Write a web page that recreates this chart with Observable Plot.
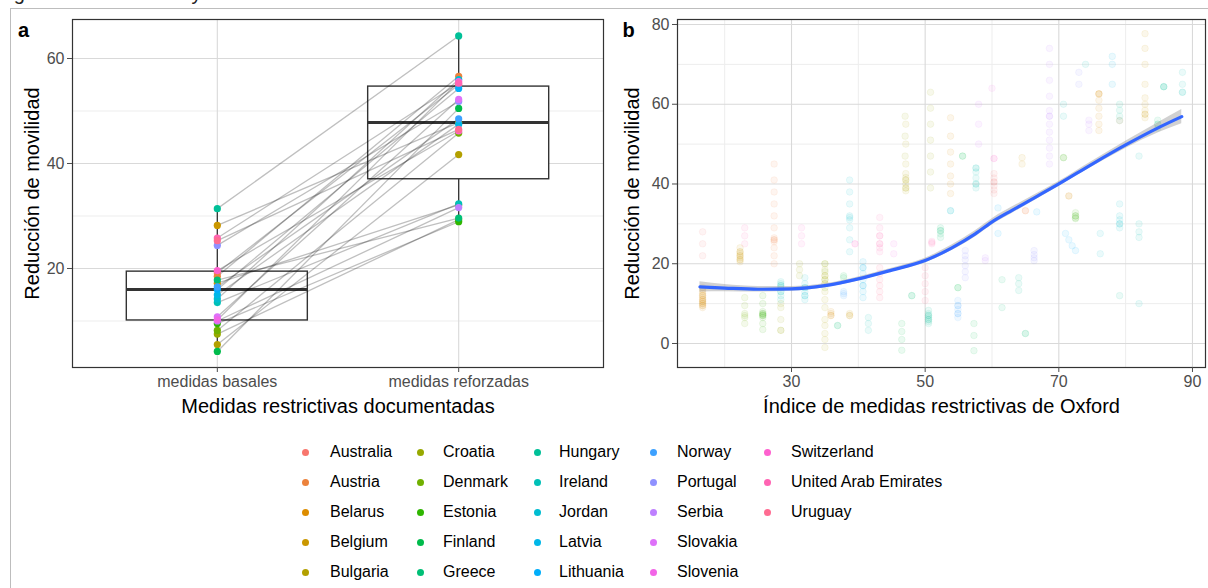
<!DOCTYPE html>
<html>
<head>
<meta charset="utf-8">
<script src="https://cdn.jsdelivr.net/npm/d3@7"></script>
<script src="https://cdn.jsdelivr.net/npm/@observablehq/plot@0.6"></script>
<style>
html,body{margin:0;padding:0;background:#fff;}
body{width:1208px;height:588px;position:relative;overflow:hidden;font-family:"Liberation Sans",Arial,Helvetica,sans-serif;}
#caption{position:absolute;left:-3px;top:-17px;font-size:20px;line-height:20px;color:#222;white-space:nowrap;}
#frameTop{position:absolute;left:10px;top:8px;right:0;height:0;border-top:1px solid #bdbdbd;z-index:3;}
#frameLeft{position:absolute;left:10px;top:8px;bottom:0;width:0;border-left:1px solid #bdbdbd;z-index:3;}
#panelA{position:absolute;left:0;top:0;}
#panelB{position:absolute;left:605px;top:0;}
.lg-text{position:absolute;font-size:16px;color:#000;white-space:nowrap;line-height:20px;}
.lg-dot{position:absolute;width:7px;height:7px;border-radius:50%;}
</style>
</head>
<body>
<div id="caption">Figura 2. Cuarentena y movilidad</div>
<div id="frameTop"></div>
<div id="frameLeft"></div>
<div id="panelA"></div>
<div id="panelB"></div>
<div id="legend"></div>
<script>
// ---------- DATA ----------
const countries = ["Australia","Austria","Belarus","Belgium","Bulgaria","Croatia","Denmark","Estonia","Finland","Greece","Hungary","Ireland","Jordan","Latvia","Lithuania","Norway","Portugal","Serbia","Slovakia","Slovenia","Switzerland","United Arab Emirates","Uruguay"];

const categoryLabels = ["medidas basales", "medidas reforzadas"];

// reduction of mobility, per country (same order as countries)
const basalValues     = [19.2, 18.5, 17.2, 28.2, 5.5, 7.5, 8.2, 9.5, 4.2, 17.8, 31.4, 13.5, 14.2, 15.0, 16.0, 16.5, 24.4, 10.0, 10.8, 10.2, 19.6, 25.8, 25.3];
const reforzadaValues = [55.0, 56.6, 32.1, 47.8, 41.7, 29.3, 45.8, 28.9, 50.5, 29.6, 64.3, 32.3, 56.0, 47.5, 54.3, 48.5, 51.8, 31.6, 52.2, 55.6, 46.2, 55.3, 46.5];

const yTicksA = [20, 40, 60];
const yMinorA = [10, 30, 50];

// panel b: [country, Oxford index, mobility reductions observed at that index (repeats = overlapping days)]
const oxfordClusters = [
  ["Belarus", 16.7, [9, 9.5, 9.5, 10, 10, 10.5, 10.5, 11, 11, 11.5, 12, 12, 12.5, 13, 13.5, 14]],
  ["Australia", 16.7, [22, 25, 28]],
  ["Belgium", 22.3, [20.5, 21, 21, 21.5, 22, 22, 22.5, 23, 23, 24]],
  ["United Arab Emirates", 23, [25, 27, 29]],
  ["Denmark", 23, [5, 6.5, 7, 7.5, 9.5, 11.5]],
  ["Estonia", 25.7, [3.5, 5, 6.5, 7, 7, 7.2, 7.5, 7.5, 8, 10, 12]],
  ["Austria", 27.4, [20, 22, 24, 25.5, 26, 26, 26.5, 29, 32, 35, 38, 41, 45]],
  ["Ireland", 28.4, [11, 12, 13, 13, 14, 14.5, 14.5, 15, 15.5]],
  ["Croatia", 28.4, [3.3, 3.3, 6, 9, 10]],
  ["Croatia", 31.2, [17, 18.5, 20]],
  ["Switzerland", 31.5, [25, 27, 29]],
  ["Jordan", 32, [11, 12, 12, 13, 14, 14, 15, 16.5]],
  ["Bulgaria", 35, [-1, 1, 2.5, 4.5, 6, 9, 11, 13, 15, 15, 16, 17, 17, 18.5, 20]],
  ["Denmark", 35, [14, 16, 18, 20]],
  ["Belarus", 35.9, [7, 7, 7.5, 8]],
  ["Greece", 36.9, [4.5, 4.5]],
  ["Finland", 37.8, [16.5, 17]],
  ["Norway", 37.8, [12, 12.5, 13]],
  ["Belgium", 38.7, [7, 7.5, 7]],
  ["Jordan", 38.7, [23, 26, 29, 31, 31.6, 32, 35, 38, 41]],
  ["Switzerland", 39.5, [25, 25]],
  ["Latvia", 40.7, [11.5, 13, 14.5, 14.5, 16, 17.5, 19, 19, 20.5]],
  ["Ireland", 41.5, [3.3, 5, 6.5]],
  ["Uruguay", 43.2, [11.5, 13, 14.5, 16, 17.5, 19]],
  ["United Arab Emirates", 43.2, [23, 24, 25, 25, 27, 27, 29, 31.6]],
  ["Slovenia", 45.3, [22.5, 25]],
  ["Finland", 46.5, [-1.7, 1, 3, 5]],
  ["Bulgaria", 47.1, [38.3, 39, 39, 40, 41, 41, 41.6, 42.6, 45, 50, 55]],
  ["Croatia", 47, [47, 52, 57]],
  ["Greece", 48, [12, 12]],
  ["Uruguay", 50, [10.8, 13, 15, 17, 19]],
  ["United Arab Emirates", 51, [25, 25.3, 25.6]],
  ["Hungary", 50.5, [5, 5.5, 6, 6, 6.5, 7, 7, 7.5, 8.3]],
  ["Croatia", 50.8, [39, 43, 47, 51, 55, 59, 63]],
  ["Greece", 52.3, [26.6, 27.5, 28.3, 28.3, 29]],
  ["Belarus", 53.8, [37.6, 40, 42, 45, 48, 52, 56.6]],
  ["Jordan", 53.8, [33.3, 33.3]],
  ["Norway", 54.9, [6.5, 7.5, 7.5, 8.5, 9.5, 9.5, 10.8]],
  ["Finland", 54.9, [14, 14]],
  ["Finland", 55.6, [47, 47]],
  ["Portugal", 56, [16.5, 18, 19.5, 21, 22, 23.3]],
  ["Ireland", 57.6, [39, 40, 40, 41.5, 43, 44, 44]],
  ["Finland", 57.3, [-1.8, 2, 5]],
  ["Slovakia", 58, [50, 55, 60]],
  ["Serbia", 59, [20.8, 21.5]],
  ["Australia", 60.3, [37.6, 38.5, 39.5, 40.5, 40.5, 41.5, 42.6]],
  ["Switzerland", 60.3, [46.4, 46.4]],
  ["Slovenia", 60, [64]],
  ["Lithuania", 60.9, [27.6, 34]],
  ["Greece", 61.5, [9, 16]],
  ["Hungary", 64, [13.3, 15, 16.5]],
  ["Belgium", 64.5, [45, 46.6]],
  ["Austria", 65, [33.3, 33.3]],
  ["Greece", 65, [2.5, 2.5]],
  ["Portugal", 66.3, [20.8, 21.5, 22.3, 23.3]],
  ["Lithuania", 66.7, [33]],
  ["Serbia", 68.6, [45, 47, 49, 51, 53, 55, 57, 57, 58.4, 62, 66, 70, 74]],
  ["Estonia", 70.7, [46.6, 46.6]],
  ["Ireland", 70.7, [57, 60]],
  ["Belarus", 71.5, [37, 37]],
  ["Lithuania", 71, [27.6]],
  ["Lithuania", 71.5, [26]],
  ["Lithuania", 72, [24.5]],
  ["Lithuania", 72.5, [23.3]],
  ["Estonia", 72.5, [31.3, 32, 32.8, 32, 31.5]],
  ["Portugal", 73, [65, 68]],
  ["Ireland", 74, [70]],
  ["Serbia", 74.5, [53.4, 55, 56]],
  ["Belarus", 76, [53.4, 55, 57, 59, 61, 62.6, 62.6, 62.6]],
  ["Jordan", 76.2, [22.5, 27.6]],
  ["Latvia", 78, [65, 70, 72]],
  ["Hungary", 79.1, [55.9, 57, 58.5, 60, 12]],
  ["Austria", 79.1, [55.9]],
  ["Jordan", 79.1, [29, 30, 30, 31, 32, 35]],
  ["Ireland", 82, [26.6, 28, 30, 47, 10]],
  ["Belgium", 82.9, [56.6, 57.5, 57.5, 58.5, 60, 61.6, 65, 70, 74, 77.7]],
  ["Greece", 84.8, [54, 55, 55, 56]],
  ["Hungary", 85.7, [64.4, 64.4, 64.4]],
  ["Ireland", 88.5, [63, 63, 65, 68]]
];

// loess smooth: x, fitted y, lower, upper
const smoothX  = [16.3, 20, 25, 30, 35, 40, 45, 50, 54, 57.5, 60.3, 63, 66, 70, 75, 80, 85, 88.4];
const smoothY  = [14.2, 13.9, 13.6, 13.7, 14.5, 16.2, 18.4, 20.8, 24.0, 27.5, 30.8, 33.4, 36.2, 40.0, 45.0, 49.8, 54.2, 56.9];
const smoothLo = [12.9, 13.0, 12.9, 13.1, 14.0, 15.7, 17.9, 20.2, 23.3, 26.7, 30.0, 32.6, 35.5, 39.4, 44.3, 48.9, 52.9, 55.1];
const smoothHi = [15.5, 14.8, 14.3, 14.3, 15.0, 16.7, 18.9, 21.4, 24.7, 28.3, 31.6, 34.2, 36.9, 40.6, 45.7, 50.7, 55.5, 58.7];

const xTicksB = [30, 50, 70, 90];
const xMinorB = [20, 40, 60, 80];
const yTicksB = [0, 20, 40, 60, 80];
const yMinorB = [10, 30, 50, 70];

// ---------- STYLE: ggplot2 default hue palette (HCL, c=100, l=65) ----------
function hueColor(i, n) {
  const h = 15 + 360 * i / n;
  const l = 65, c = 100;
  const hr = h * Math.PI / 180;
  const U = c * Math.cos(hr), V = c * Math.sin(hr);
  const Xn = 95.047, Yn = 100, Zn = 108.883;
  const den = Xn + 15 * Yn + 3 * Zn;
  const un = 4 * Xn / den, vn = 9 * Yn / den;
  const Y = Yn * Math.pow((l + 16) / 116, 3);
  const up = U / (13 * l) + un, vp = V / (13 * l) + vn;
  const X = 9 * Y * up / (4 * vp);
  const Z = Y * (12 - 3 * up - 20 * vp) / (4 * vp);
  const x = X / 100, y = Y / 100, z = Z / 100;
  const lin = [
    3.240479 * x - 1.537150 * y - 0.498535 * z,
    -0.969256 * x + 1.875992 * y + 0.041556 * z,
    0.055648 * x - 0.204043 * y + 1.057311 * z
  ];
  const g = lin.map(v => {
    v = v <= 0.0031308 ? 12.92 * v : 1.055 * Math.pow(v, 1 / 2.4) - 0.055;
    return Math.round(Math.max(0, Math.min(1, v)) * 255);
  });
  return d3.rgb(g[0], g[1], g[2]).formatHex();
}
const palette = countries.map((c, i) => hueColor(i, countries.length));
const colorScale = {domain: countries, range: palette};

const svgStyle = {
  background: "transparent",
  fontFamily: "'Liberation Sans', Arial, Helvetica, sans-serif",
  fontSize: "16px",
  color: "#4D4D4D",
  overflow: "visible"
};
const majorGrid = "#D9D9D9";
const minorGrid = "#EDEDED";
const frameColor = "#333333";

// ---------- PANEL A ----------
const pairs = countries.map((c, i) => ({country: c, basal: basalValues[i], ref: reforzadaValues[i]}));
const longA = pairs.flatMap(d => [
  {country: d.country, cat: 1, value: d.basal},
  {country: d.country, cat: 2, value: d.ref}
]);
const stats = [basalValues, reforzadaValues].map((vals, i) => {
  const s = d3.sort(vals);
  const q1 = d3.quantile(s, 0.25), q2 = d3.quantile(s, 0.5), q3 = d3.quantile(s, 0.75);
  const iqr = q3 - q1;
  const lo = d3.min(s.filter(v => v >= q1 - 1.5 * iqr));
  const hi = d3.max(s.filter(v => v <= q3 + 1.5 * iqr));
  return {cat: i + 1, q1, q2, q3, lo, hi};
});
const halfBox = 0.375;

const plotA = Plot.plot({
  width: 605, height: 420,
  marginLeft: 72, marginRight: 2, marginTop: 19, marginBottom: 53,
  x: {domain: [0.4, 2.6]},
  y: {domain: [1.14, 67.43]},
  color: colorScale,
  style: svgStyle,
  marks: [
    Plot.ruleY(yMinorA, {stroke: minorGrid, strokeWidth: 1}),
    Plot.ruleY(yTicksA, {stroke: majorGrid, strokeWidth: 1.1}),
    Plot.ruleX([1, 2], {stroke: majorGrid, strokeWidth: 1.1}),
    Plot.ruleX(stats, {x: "cat", y1: "lo", y2: "hi", stroke: frameColor, strokeWidth: 1.3}),
    Plot.rect(stats, {x1: d => d.cat - halfBox, x2: d => d.cat + halfBox, y1: "q1", y2: "q3", fill: "white", stroke: frameColor, strokeWidth: 1.4}),
    Plot.ruleY(stats, {x1: d => d.cat - halfBox, x2: d => d.cat + halfBox, y: "q2", stroke: frameColor, strokeWidth: 3}),
    Plot.link(pairs, {x1: () => 1, x2: () => 2, y1: "basal", y2: "ref", stroke: "black", strokeOpacity: 0.25, strokeWidth: 1.3}),
    Plot.dot(longA, {x: "cat", y: "value", fill: "country", r: 3.6}),
    Plot.frame({stroke: frameColor, strokeWidth: 1.2}),
    Plot.axisX({ticks: [1, 2], tickFormat: d => categoryLabels[d - 1], tickSize: 5, tickPadding: 3, label: null, fontSize: 16}),
    Plot.axisY({ticks: yTicksA, tickSize: 5, tickPadding: 3, label: null, fontSize: 16}),
    Plot.text(["Medidas restrictivas documentadas"], {frameAnchor: "bottom", dy: 39, fontSize: 20, fill: "black", textAnchor: "middle", lineAnchor: "middle"}),
    Plot.text(["Reducción de movilidad"], {frameAnchor: "left", dx: -40, rotate: -90, fontSize: 20, fill: "black", textAnchor: "middle", lineAnchor: "middle"}),
    Plot.text(["a"], {frameAnchor: "top-left", dx: -49, dy: 11, fontSize: 20, fontWeight: "bold", fill: "black", textAnchor: "middle", lineAnchor: "middle"})
  ]
});
document.getElementById("panelA").appendChild(plotA);

// ---------- PANEL B ----------
const oxfordPoints = oxfordClusters.flatMap(([country, x, ys]) => ys.map(y => ({country, x, y})));
const smooth = smoothX.map((x, i) => ({x, y: smoothY[i], lo: smoothLo[i], hi: smoothHi[i]}));

const plotB = Plot.plot({
  width: 603, height: 420,
  marginLeft: 72, marginRight: 3, marginTop: 19, marginBottom: 53,
  x: {domain: [12.94, 91.95]},
  y: {domain: [-6.02, 81.25]},
  color: colorScale,
  style: svgStyle,
  marks: [
    Plot.ruleY(yMinorB, {stroke: minorGrid, strokeWidth: 1}),
    Plot.ruleX(xMinorB, {stroke: minorGrid, strokeWidth: 1}),
    Plot.ruleY(yTicksB, {stroke: majorGrid, strokeWidth: 1.1}),
    Plot.ruleX(xTicksB, {stroke: majorGrid, strokeWidth: 1.1}),
    Plot.dot(oxfordPoints, {x: "x", y: "y", fill: "country", stroke: "country", r: 3.3, fillOpacity: 0.08, strokeOpacity: 0.1, strokeWidth: 0.8}),
    Plot.areaY(smooth, {x: "x", y1: "lo", y2: "hi", fill: "#999999", fillOpacity: 0.45, curve: "monotone-x"}),
    Plot.line(smooth, {x: "x", y: "y", stroke: "#3366FF", strokeWidth: 3.2, curve: "monotone-x"}),
    Plot.frame({stroke: frameColor, strokeWidth: 1.2}),
    Plot.axisX({ticks: xTicksB, tickSize: 5, tickPadding: 3, label: null, fontSize: 16}),
    Plot.axisY({ticks: yTicksB, tickSize: 5, tickPadding: 3, label: null, fontSize: 16}),
    Plot.text(["Índice de medidas restrictivas de Oxford"], {frameAnchor: "bottom", dy: 39, fontSize: 20, fill: "black", textAnchor: "middle", lineAnchor: "middle"}),
    Plot.text(["Reducción de movilidad"], {frameAnchor: "left", dx: -45, rotate: -90, fontSize: 20, fill: "black", textAnchor: "middle", lineAnchor: "middle"}),
    Plot.text(["b"], {frameAnchor: "top-left", dx: -49, dy: 11, fontSize: 20, fontWeight: "bold", fill: "black", textAnchor: "middle", lineAnchor: "middle"})
  ]
});
document.getElementById("panelB").appendChild(plotB);

// ---------- LEGEND ----------
const legendRows = 5;
const colDot = [305, 420, 537, 653, 767];
const colText = [330, 443, 559, 677, 791];
const rowY = [452, 482, 512, 542, 572];
const legend = document.getElementById("legend");
countries.forEach((c, i) => {
  const col = Math.floor(i / legendRows), row = i % legendRows;
  const dot = document.createElement("div");
  dot.className = "lg-dot";
  dot.style.left = (colDot[col] - 3.5) + "px";
  dot.style.top = (rowY[row] - 3.5) + "px";
  dot.style.background = palette[i];
  legend.appendChild(dot);
  const t = document.createElement("div");
  t.className = "lg-text";
  t.style.left = colText[col] + "px";
  t.style.top = (rowY[row] - 10) + "px";
  t.textContent = c;
  legend.appendChild(t);
});
</script>
</body>
</html>
